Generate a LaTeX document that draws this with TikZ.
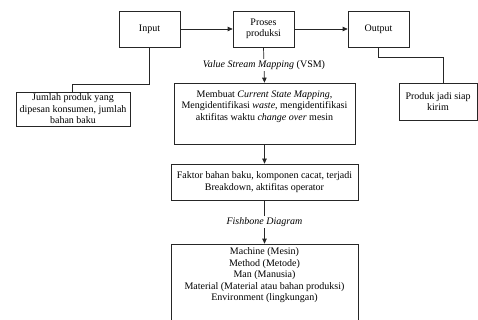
\documentclass[tikz,border=0pt]{standalone}
\usepackage{fontspec}
\setmainfont{Liberation Serif}
\usetikzlibrary{arrows.meta}
\begin{document}
\begin{tikzpicture}[x=1pt,y=-1pt,
  box/.style={draw=black!85, line width=0.7pt, rectangle, inner sep=2pt, align=center,
    font=\fontsize{10}{11.5}\selectfont},
  lbl/.style={fill=white, inner sep=1.5pt, font=\fontsize{10}{11.5}\selectfont},
  txt/.style={inner sep=0pt, align=center, font=\fontsize{10}{11.5}\selectfont},
  conn/.style={draw=black!85, line width=0.7pt},
  arr/.style={conn, -{Triangle[length=5pt,width=4.5pt]}}]
\useasboundingbox (0,0) rectangle (478,320);
\node[box, minimum width=61pt, minimum height=36pt] (in) at (149.5,29) {Input};
\node[box, minimum width=61pt, minimum height=36pt] (pr) at (263.5,29) {Proses\\produksi};
\node[box, minimum width=61pt, minimum height=36pt] (out) at (378.5,29) {Output};
\node[box, minimum width=114pt, minimum height=32pt] (jum) at (73,109) {Jumlah produk yang\\dipesan konsumen, jumlah\\bahan baku};
\node[box, minimum width=78pt, minimum height=37pt] (prod) at (438,101.5) {Produk jadi siap\\kirim};
\node[box, minimum width=181pt, minimum height=61pt] (vsm) at (264.5,113.5) {};
\node[txt, anchor=north] (vsmt) at (264.5,90) {Membuat \textit{Current State Mapping},\\Mengidentifikasi \textit{waste}, mengidentifikasi\\aktifitas waktu \textit{change over} mesin};
\node[box, minimum width=187pt, minimum height=36pt] (fak) at (264.5,182) {Faktor bahan baku, komponen cacat, terjadi\\Breakdown, aktifitas operator};
\node[box, minimum width=187pt, minimum height=82pt] (fin) at (264.5,285) {};
\node[txt, anchor=north] (fint) at (264.5,247.5) {Machine (Mesin)\\Method (Metode)\\Man (Manusia)\\Material (Material atau bahan produksi)\\Environment (lingkungan)};
\draw[arr] (in.east) -- (pr.west);
\draw[arr] (pr.east) -- (out.west);
\draw[arr] (pr.south) -- node[lbl] {\textit{Value Stream Mapping} (VSM)} (vsm.north);
\draw[arr] (vsm.south) -- (fak.north);
\draw[arr] (fak.south) -- node[lbl, pos=0.5] {\textit{Fishbone Diagram}} (fin.north);
\coordinate (c1) at (72,84);
\coordinate (c2) at (443,57);
\draw[conn] (in.south) |- (c1) -- (c1 |- jum.north);
\draw[conn] (out.south) |- (c2) -- (c2 |- prod.north);
\end{tikzpicture}
\end{document}
